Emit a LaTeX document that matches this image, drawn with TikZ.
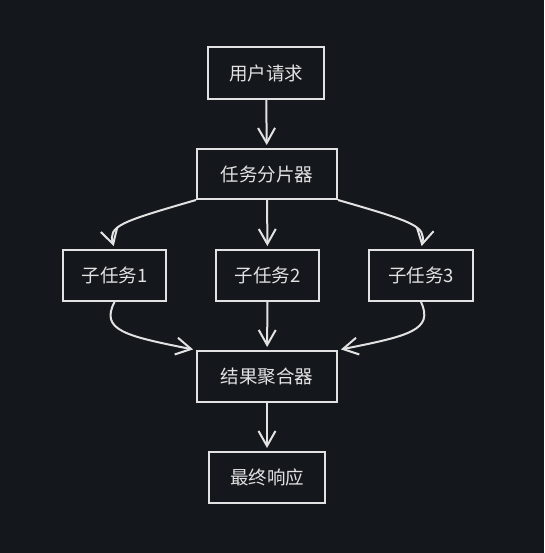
\documentclass[tikz,border=0pt]{standalone}
\usepackage{fontspec}
\setmainfont{Noto Sans CJK SC}
\usetikzlibrary{arrows.meta}
\definecolor{bg}{HTML}{14171B}
\definecolor{ink}{HTML}{E2E2E2}
\tikzset{
  box/.style={draw=ink, line width=2pt, text=ink, inner sep=0pt,
    font=\fontsize{18.5}{22}\selectfont},
  conn/.style={draw=ink, line width=2pt,
    -{Straight Barb[length=15pt, width=17pt, line width=2pt]}, shorten >=3pt},
}
\begin{document}
\begin{tikzpicture}[x=1pt, y=-1pt]
\fill[bg] (0,0) rectangle (544,553);
\useasboundingbox (0,0) rectangle (544,553);
\node[box, minimum width=116pt, minimum height=52pt] (req) at (266,73) {用户请求};
\node[box, minimum width=140pt, minimum height=50pt] (split) at (267,174) {任务分片器};
\node[box, minimum width=103pt, minimum height=51pt] (t1) at (114.5,275.5) {子任务1};
\node[box, minimum width=103pt, minimum height=51pt] (t2) at (267.5,275.5) {子任务2};
\node[box, minimum width=104pt, minimum height=51pt] (t3) at (421,275.5) {子任务3};
\node[box, minimum width=140pt, minimum height=51pt] (agg) at (267,376.5) {结果聚合器};
\node[box, minimum width=116pt, minimum height=51pt] (resp) at (267,477.5) {最终响应};
\draw[conn] (req) -- (split);
\draw[conn] (split) -- (t2);
\draw[conn] (split.south west) .. controls (120,222) and (108,226) .. (t1.north);
\draw[conn] (split.south east) .. controls (414,222) and (426,226) .. (t3.north);
\draw[conn] (t1.south) .. controls (100,330) and (125,336) .. (agg.north west);
\draw[conn] (t3.south) .. controls (434,330) and (409,336) .. (agg.north east);
\draw[conn] (t2) -- (agg);
\draw[conn] (agg) -- (resp);
\end{tikzpicture}
\end{document}
